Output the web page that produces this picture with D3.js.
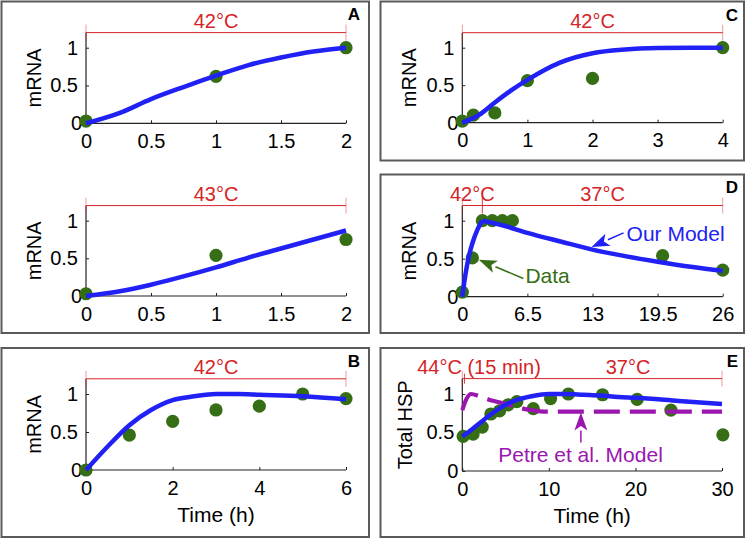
<!DOCTYPE html>
<html><head><meta charset="utf-8">
<script src="https://cdn.jsdelivr.net/npm/d3@7"></script>
<style>
body{margin:0;background:#fff}
svg{display:block}
text{font-family:"Liberation Sans",Arial,Helvetica,sans-serif}
</style>
</head><body>
<svg id="chart" width="747" height="541"></svg>
<script>
// ---------- data ----------
// Panel A, 42°C
const timeA42 = [0, 1, 2];
const mrnaA42 = [0.03, 0.62, 1.0];
const modelTimeA42 = [0, 0.25, 0.5, 0.75, 1, 1.25, 1.5, 1.75, 2];
const modelA42 = [0, 0.13, 0.32, 0.48, 0.63, 0.77, 0.87, 0.95, 1.0];
// Panel A, 43°C
const timeA43 = [0, 1, 2];
const mrnaA43 = [0.03, 0.54, 0.75];
const modelTimeA43 = [0, 0.25, 0.5, 0.75, 1, 1.25, 1.5, 1.75, 2];
const modelA43 = [0, 0.06, 0.15, 0.26, 0.38, 0.51, 0.63, 0.75, 0.87];
// Panel B
const timeB = [0, 1, 2, 3, 4, 5, 6];
const mrnaB = [0, 0.46, 0.64, 0.79, 0.84, 1.0, 0.94];
const modelTimeB = [0, 0.5, 1, 1.5, 2, 2.5, 3, 3.5, 4, 5, 6];
const modelB = [0, 0.31, 0.59, 0.79, 0.92, 0.97, 1.0, 1.0, 0.99, 0.97, 0.93];
// Panel C
const timeC = [0, 0.17, 0.5, 1, 2, 4];
const mrnaC = [0.02, 0.1, 0.13, 0.56, 0.59, 1.0];
const modelTimeC = [0, 0.25, 0.5, 0.75, 1, 1.5, 2, 2.5, 3, 3.5, 4];
const modelC = [0, 0.1, 0.27, 0.43, 0.57, 0.8, 0.925, 0.975, 0.995, 1.0, 1.0];
// Panel D
const timeD = [0, 1, 2, 3, 4, 5, 20, 26];
const mrnaD = [0.06, 0.51, 1.0, 1.0, 1.0, 1.0, 0.54, 0.35];
const modelTimeD = [0, 0.3, 0.6, 1, 1.5, 2, 4, 6.5, 10, 13, 16, 19.5, 23, 26];
const modelD = [0, 0.28, 0.5, 0.7, 0.88, 1.0, 0.94, 0.84, 0.72, 0.62, 0.54, 0.46, 0.39, 0.34];
// Panel E
const timeE = [0.1, 1.25, 2.3, 3.3, 4.3, 5.3, 6.3, 8.2, 10.2, 12.25, 16.2, 20.2, 24.1, 30.1];
const hspE = [0.45, 0.48, 0.57, 0.74, 0.78, 0.86, 0.9, 0.81, 0.94, 1.0, 0.99, 0.93, 0.79, 0.47];
const modelTimeE = [0, 1, 2, 3, 4, 5, 6, 8, 10, 12, 14, 16, 18, 20, 25, 30];
const modelE = [0.45, 0.53, 0.62, 0.71, 0.79, 0.86, 0.91, 0.97, 1.0, 1.0, 0.99, 0.98, 0.96, 0.95, 0.91, 0.87];
const petreTimeE = [0, 0.5, 1, 2, 3, 4, 5, 6, 7, 8, 9, 10, 15, 20, 25, 30];
const petreE = [0.79, 0.94, 1.0, 0.97, 0.93, 0.9, 0.87, 0.84, 0.81, 0.79, 0.775, 0.77, 0.77, 0.77, 0.77, 0.77];

// ticks
const xTicksA = [0, 0.5, 1, 1.5, 2];
const xTicksB = [0, 2, 4, 6];
const xTicksC = [0, 1, 2, 3, 4];
const xTicksD = [0, 6.5, 13, 19.5, 26];
const xTicksE = [0, 10, 20, 30];
const yTicks = [0, 0.5, 1];

// temperature brackets: breakpoints (h) and labels [text, x position (h)]
const bracketA42 = [0, 2], labelsA42 = [["42°C", 1]];
const bracketA43 = [0, 2], labelsA43 = [["43°C", 1]];
const bracketB = [0, 6], labelsB = [["42°C", 3]];
const bracketC = [0, 4], labelsC = [["42°C", 2]];
const bracketD = [0, 2, 26], labelsD = [["42°C", 1], ["37°C", 14]];
const bracketE = [0, 0.25, 30], labelsE = [["44°C (15 min)", 1.93], ["37°C", 19.15]];

// ---------- styling ----------
const BLUE = "#2121f5", GREEN = "#356e14", RED = "#d42428", PURPLE = "#9a16ae";
const FS = 20;

const svg = d3.select("#chart");

// panel boxes
const boxes = [
  [1.5, 1.5, 367.5, 331.5],
  [1.5, 348, 367.5, 189],
  [380.5, 1.5, 363.5, 159],
  [380.5, 174.5, 363.5, 158.5],
  [380.5, 348, 363.5, 189]
];
svg.selectAll("rect.box").data(boxes).join("rect")
  .attr("x", d => d[0]).attr("y", d => d[1]).attr("width", d => d[2]).attr("height", d => d[3])
  .attr("fill", "none").attr("stroke", "#5a5a5a").attr("stroke-width", 2);

const panels = [
  {label: "A", lx: 360, ly: 20, xr: [86, 346], yr: [123.3, 32.6], xd: [0, 2], xt: xTicksA, ylab: "mRNA", ylx: 40.5,
   dt: timeA42, dv: mrnaA42, mt: modelTimeA42, mv: modelA42, br: bracketA42, bl: labelsA42},
  {label: "", xr: [86, 346], yr: [296, 205.6], xd: [0, 2], xt: xTicksA, ylab: "mRNA", ylx: 40.5,
   dt: timeA43, dv: mrnaA43, mt: modelTimeA43, mv: modelA43, br: bracketA43, bl: labelsA43},
  {label: "B", lx: 360, ly: 366.5, xr: [86, 346], yr: [470, 378.8], xd: [0, 6], xt: xTicksB, ylab: "mRNA", ylx: 40.5,
   xlab: "Time (h)", dt: timeB, dv: mrnaB, mt: modelTimeB, mv: modelB, br: bracketB, bl: labelsB},
  {label: "C", lx: 738, ly: 20.5, xr: [462.3, 722.7], yr: [122.7, 32.7], xd: [0, 4], xt: xTicksC, ylab: "mRNA", ylx: 415.5,
   dt: timeC, dv: mrnaC, mt: modelTimeC, mv: modelC, br: bracketC, bl: labelsC},
  {label: "D", lx: 738, ly: 193, xr: [462.3, 722.7], yr: [296.7, 205.5], xd: [0, 26], xt: xTicksD, ylab: "mRNA", ylx: 415.5,
   dt: timeD, dv: mrnaD, mt: modelTimeD, mv: modelD, split: 2, br: bracketD, bl: labelsD, inner: [-15, 8]},
  {label: "E", lx: 738, ly: 366.5, xr: [462.3, 722], yr: [471, 378.6], xd: [0, 30], xt: xTicksE, ylab: "Total HSP", ylx: 411.5,
   xlab: "Time (h)", dt: timeE, dv: hspE, mt: modelTimeE, mv: modelE, pt: petreTimeE, pv: petreE, br: bracketE, bl: labelsE, inner: [-5, 5]}
];

function arrow(g, x, y, t0, v0, t1, v1, color, sw) {
  const x0 = x(t0), y0 = y(v0), x1 = x(t1), y1 = y(v1);
  const ang = Math.atan2(y1 - y0, x1 - x0);
  const L = 18, W = 6.5;
  const bx = x1 - L * Math.cos(ang), by = y1 - L * Math.sin(ang);
  g.append("line").attr("x1", x0).attr("y1", y0).attr("x2", bx).attr("y2", by)
    .attr("stroke", color).attr("stroke-width", sw);
  const px = -Math.sin(ang) * W, py = Math.cos(ang) * W;
  g.append("path").attr("d", `M${x1},${y1}L${bx + px},${by + py}L${bx + L * 0.25 * Math.cos(ang)},${by + L * 0.25 * Math.sin(ang)}L${bx - px},${by - py}Z`)
    .attr("fill", color);
}

panels.forEach(p => {
  const x = d3.scaleLinear().domain(p.xd).range(p.xr);
  const y = d3.scaleLinear().domain([0, 1.2]).range(p.yr);
  const g = svg.append("g");

  // axes
  const xa = g.append("g").attr("transform", `translate(0,${y(0)})`)
    .call(d3.axisBottom(x).tickValues(p.xt).tickSize(-3).tickPadding(9).tickFormat(d3.format("")));
  xa.select(".domain").attr("stroke", "#222").attr("stroke-width", 1.2).attr("d", `M${x(p.xd[0])},0H${x(p.xd[1])}`);
  xa.selectAll(".tick line").attr("stroke", "#222");
  xa.selectAll("text").attr("font-size", FS).attr("fill", "#000").attr("dy", "0.78em")
    .attr("font-family", "Liberation Sans, Arial, sans-serif");

  const ya = g.append("g").attr("transform", `translate(${x(0)},0)`)
    .call(d3.axisLeft(y).tickValues(yTicks).tickSize(-3).tickPadding(8).tickFormat(d3.format("")));
  ya.select(".domain").attr("stroke", "#222").attr("stroke-width", 1.2).attr("d", `M0,${y(0)}V${y(1.2)}`);
  ya.selectAll(".tick line").attr("stroke", "#222");
  ya.selectAll("text").attr("font-size", FS).attr("fill", "#000")
    .attr("font-family", "Liberation Sans, Arial, sans-serif")
    .attr("x", d => d === 0 ? -4 : -8);

  // y label
  g.append("text").attr("transform", `translate(${p.ylx},${(y(0) + y(1.2)) / 2}) rotate(-90)`)
    .attr("text-anchor", "middle").attr("font-size", FS).attr("fill", "#000").text(p.ylab);
  if (p.xlab) {
    g.append("text").attr("x", (x(p.xd[0]) + x(p.xd[1])) / 2).attr("y", y(0) + 52)
      .attr("text-anchor", "middle").attr("font-size", 21).attr("fill", "#000").text(p.xlab);
  }

  // bracket
  const yb = y(1.2);
  g.append("line").attr("x1", x(p.br[0])).attr("x2", x(p.br[p.br.length - 1])).attr("y1", yb).attr("y2", yb)
    .attr("stroke", RED).attr("stroke-width", 1);
  p.br.forEach((b, i) => {
    const isEnd = i === 0 || i === p.br.length - 1;
    const ext = isEnd ? [-8, 8] : p.inner;
    g.append("line").attr("x1", x(b)).attr("x2", x(b)).attr("y1", yb + ext[0]).attr("y2", yb + ext[1])
      .attr("stroke", RED).attr("stroke-width", 1).attr("stroke-opacity", isEnd ? 0.45 : 0.9);
  });
  p.bl.forEach(l => {
    g.append("text").attr("x", x(l[1])).attr("y", yb - 4.5).attr("text-anchor", "middle")
      .attr("font-size", FS).attr("fill", RED).text(l[0]);
  });

  // data dots
  g.selectAll("circle.d").data(p.dt.map((t, i) => [t, p.dv[i]])).join("circle")
    .attr("cx", d => x(d[0])).attr("cy", d => y(d[1])).attr("r", 6.6).attr("fill", GREEN);

  const line = d3.line().x(d => x(d[0])).y(d => y(d[1])).curve(d3.curveMonotoneX);

  // Petre model
  if (p.pt) {
    g.append("path").attr("d", line(p.pt.map((t, i) => [t, p.pv[i]])))
      .attr("fill", "none").attr("stroke", PURPLE).attr("stroke-width", 4.2).attr("stroke-dasharray", "26,10");
  }

  // model
  const pts = p.mt.map((t, i) => [t, p.mv[i]]);
  const segs = p.split !== undefined ? [pts.filter(d => d[0] <= p.split), pts.filter(d => d[0] >= p.split)] : [pts];
  segs.forEach(s => g.append("path").attr("d", line(s)).attr("fill", "none").attr("stroke", BLUE)
    .attr("stroke-width", 4.5).attr("stroke-linejoin", "round"));

  // panel label
  if (p.label) {
    g.append("text").attr("x", p.lx).attr("y", p.ly).attr("text-anchor", "end")
      .attr("font-size", 17).attr("font-weight", "bold").attr("fill", "#000").text(p.label);
  }

  // annotations
  if (p.label === "D") {
    arrow(g, x, y, 16.1, 0.84, 12.9, 0.655, BLUE, 1.5);
    g.append("text").attr("x", x(16.4)).attr("y", y(0.73)).attr("font-size", 21).attr("fill", BLUE).text("Our Model");
    arrow(g, x, y, 6.1, 0.24, 1.65, 0.485, GREEN, 1.5);
    g.append("text").attr("x", x(6.3)).attr("y", y(0.18)).attr("font-size", 21).attr("fill", GREEN).text("Data");
  }
  if (p.label === "E") {
    arrow(g, x, y, 13.7, 0.37, 13.7, 0.76, PURPLE, 1.5);
    g.append("text").attr("x", x(4.15)).attr("y", y(0.115)).attr("font-size", 21).attr("fill", PURPLE).text("Petre et al. Model");
  }
});
</script>
</body></html>
